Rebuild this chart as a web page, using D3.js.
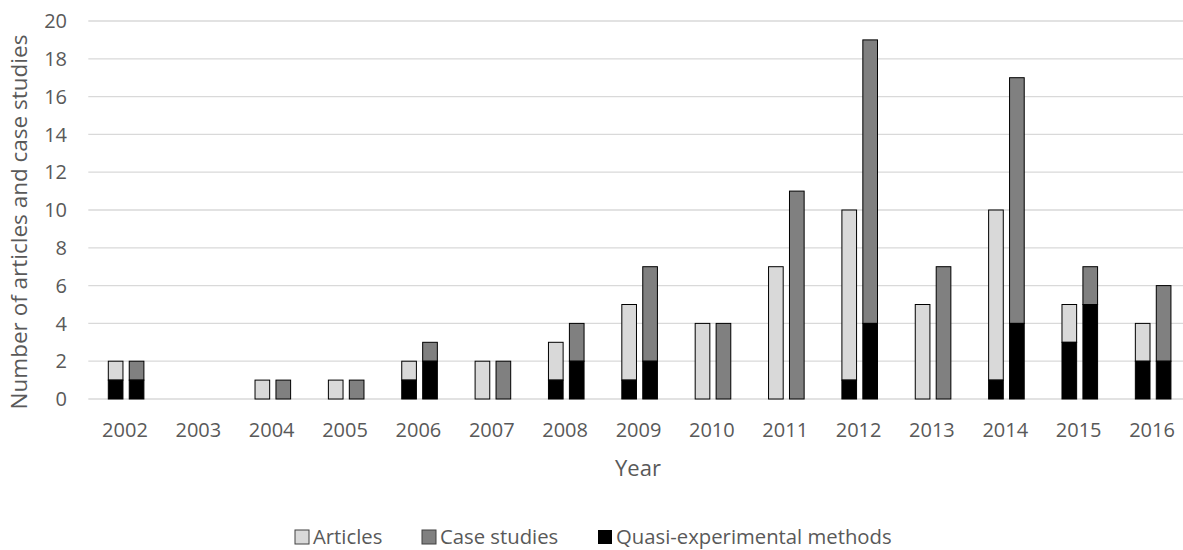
<html>
<head>
<script src="https://d3js.org/d3.v7.min.js"></script>
<style>
body { margin: 0; background: #fff; }
text { font-family: "Open Sans", sans-serif; fill: #595959; }
</style>
</head>
<body>
<script>
// values
var years = ["2002","2003","2004","2005","2006","2007","2008","2009","2010","2011","2012","2013","2014","2015","2016"];
var articles      = [2, 0, 1, 1, 2, 2, 3, 5, 4, 7, 10, 5, 10, 5, 4];
var articlesQuasi = [1, 0, 0, 0, 1, 0, 1, 1, 0, 0, 1, 0, 1, 3, 2];
var cases         = [2, 0, 1, 1, 3, 2, 4, 7, 4, 11, 19, 7, 17, 7, 6];
var casesQuasi    = [1, 0, 0, 0, 2, 0, 2, 2, 0, 0, 4, 0, 4, 5, 2];
var yTicks = [0, 2, 4, 6, 8, 10, 12, 14, 16, 18, 20];
var legendNames = ["Articles", "Case studies", "Quasi-experimental methods"];

var w = 1183, h = 550;
var colArticles = "#d9d9d9", colCases = "#808080", colQuasi = "#000000";

var svg = d3.select("body").append("svg").attr("width", w).attr("height", h);

var x = d3.scaleBand().domain(years).range([88.3, 1188.7]).padding(0);
var xInner = d3.scaleBand().domain(["articles", "cases"]).range([20, 55.6]).paddingInner(0.3);
var y = d3.scaleLinear().domain([0, 20]).range([399, 21]);

// gridlines
svg.append("g").selectAll("line").data(yTicks).enter().append("line")
  .attr("x1", 88.3).attr("x2", w)
  .attr("y1", function(d){ return y(d); }).attr("y2", function(d){ return y(d); })
  .attr("stroke", "#d9d9d9").attr("stroke-width", 1.3);

// y tick labels
svg.append("g").selectAll("text").data(yTicks).enter().append("text")
  .attr("x", 67).attr("y", function(d){ return y(d); })
  .attr("dy", "0.36em").attr("text-anchor", "end")
  .style("font-size", "20px")
  .text(function(d){ return d; });

// x tick labels
svg.append("g").selectAll("text").data(years).enter().append("text")
  .attr("x", function(d){ return x(d) + x.bandwidth() / 2; })
  .attr("y", 437).attr("text-anchor", "middle")
  .style("font-size", "20px")
  .text(function(d){ return d; });

// bars: quasi part at bottom, rest on top
function drawBars(key, totals, quasi, fill) {
  var g = svg.append("g");
  years.forEach(function(yr, i) {
    if (totals[i] === 0) return;
    var bx = x(yr) + xInner(key), bw = xInner.bandwidth();
    if (totals[i] > quasi[i]) {
      g.append("rect").attr("x", bx).attr("width", bw)
        .attr("y", y(totals[i])).attr("height", y(quasi[i]) - y(totals[i]))
        .attr("fill", fill).attr("stroke", "#000").attr("stroke-width", 1);
    }
    if (quasi[i] > 0) {
      g.append("rect").attr("x", bx).attr("width", bw)
        .attr("y", y(quasi[i])).attr("height", y(0) - y(quasi[i]))
        .attr("fill", colQuasi).attr("stroke", "#000").attr("stroke-width", 1);
    }
  });
}
drawBars("articles", articles, articlesQuasi, colArticles);
drawBars("cases", cases, casesQuasi, colCases);

// axis titles
svg.append("text").attr("x", 638).attr("y", 476).attr("text-anchor", "middle")
  .style("font-size", "22px").text("Year");
svg.append("text")
  .attr("transform", "translate(27,222) rotate(-90)")
  .attr("text-anchor", "middle")
  .style("font-size", "22.5px")
  .text("Number of articles and case studies");

// legend
var legendCols = [colArticles, colCases, colQuasi];
var legendX = [295, 422, 598];
var lg = svg.append("g");
legendNames.forEach(function(name, i) {
  lg.append("rect").attr("x", legendX[i]).attr("y", 530).attr("width", 14).attr("height", 14)
    .attr("fill", legendCols[i]).attr("stroke", i === 2 ? "none" : "#404040").attr("stroke-width", 1);
  lg.append("text").attr("x", legendX[i] + 18).attr("y", 544)
    .style("font-size", "20.3px").text(name);
});
</script>
</body>
</html>
